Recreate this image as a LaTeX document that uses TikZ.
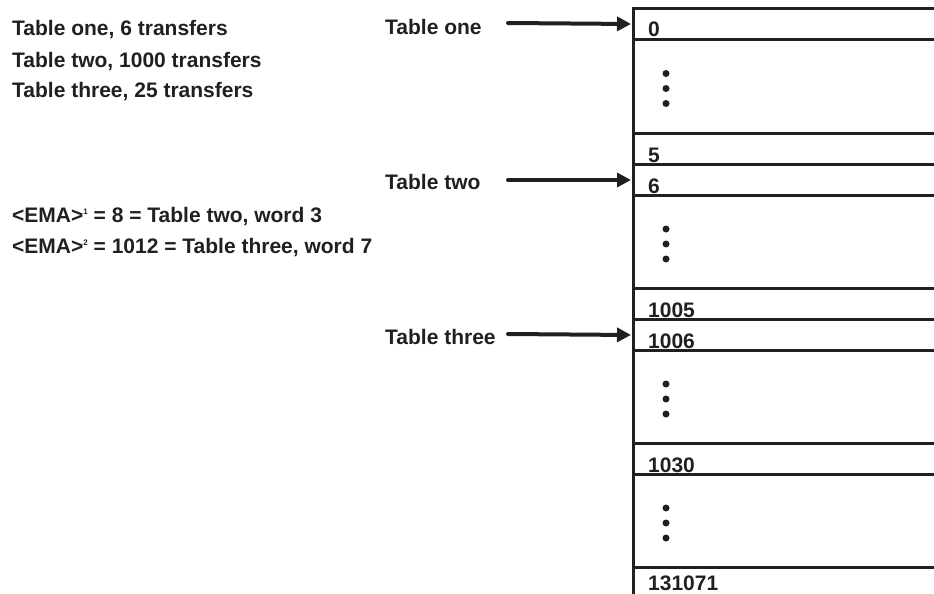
\documentclass[tikz,border=0pt]{standalone}
\usepackage{fontspec}
\setmainfont{Liberation Sans}
\usetikzlibrary{arrows.meta,calc}
\definecolor{ink}{RGB}{35,31,32}
\begin{document}
\begin{tikzpicture}[x=1pt,y=-1pt,
  txt/.style={anchor=base west,inner sep=0pt,text=ink,
    font=\fontsize{21}{25}\selectfont\bfseries},
  cell/.style={draw=ink,line width=3pt,rectangle,inner sep=0pt,
    anchor=north west,minimum width=320pt},
  pointer/.style={draw=ink,line width=4pt,line cap=round,
    -{Triangle[length=14pt,width=14pt]},shorten >=1pt},
  dot/.style={fill=ink,circle,inner sep=0pt,minimum size=7pt}]
\useasboundingbox (0,0) rectangle (934,594);
\begin{scope}
\clip (0,0) rectangle (934,594);
% memory column: single rows and elided blocks
\node[cell,minimum height=31pt] (c0)    at (632,7)   {};
\node[cell,minimum height=94pt] (d1)    at (632,38)  {};
\node[cell,minimum height=31pt] (c5)    at (632,132) {};
\node[cell,minimum height=31pt] (c6)    at (632,163) {};
\node[cell,minimum height=93pt] (d2)    at (632,194) {};
\node[cell,minimum height=31pt] (c1005) at (632,287) {};
\node[cell,minimum height=31pt] (c1006) at (632,318) {};
\node[cell,minimum height=93pt] (d3)    at (632,349) {};
\node[cell,minimum height=31pt] (c1030) at (632,442) {};
\node[cell,minimum height=93pt] (d4)    at (632,473) {};
\node[cell,minimum height=60pt] (cend)  at (632,566) {};
% vertical ellipses in the elided blocks
\foreach \d in {d1,d2,d3,d4}{
  \node[dot] (\d a) at ($(\d.west)+(34,-13)$) {};
  \node[dot] (\d b) at ($(\d.west)+(34,2)$) {};
  \node[dot] (\d c) at ($(\d.west)+(34,17)$) {};
}
\end{scope}
% row addresses
\foreach \c/\t in {c0/0,c5/5,c6/6,c1005/1005,c1006/1006,c1030/1030}
  \node[txt] at ($(\c.south west)+(16,-4)$) {\t};
\node[txt] (aend) at ($(cend.north west)+(16,24)$) {131071};
% table pointers
\node[txt] (lone)   at (385,35)  {Table one};
\node[txt] (ltwo)   at (385,189) {Table two};
\node[txt] (lthree) at (385,344) {Table three};
\coordinate (sone)   at (508,23);
\coordinate (stwo)   at (508,180);
\coordinate (sthree) at (508,334);
\draw[pointer] (sone) -- (c0.west);
\draw[pointer] (stwo) -- (c6.west);
\draw[pointer] (sthree) -- (c1006.west);
% notes
\newcommand{\supnum}[1]{\raisebox{8pt}{\fontsize{8}{8}\selectfont #1}}
\node[txt] (n1) at (12,36) {Table one, 6 transfers};
\node[txt] (n2) at (12,67) {Table two, 1000 transfers};
\node[txt] (n3) at (12,97) {Table three, 25 transfers};
\node[txt] (e1) at (12,222) {<EMA>\supnum{1} = 8 = Table two, word 3};
\node[txt] (e2) at (12,253) {<EMA>\supnum{2} = 1012 = Table three, word 7};
\end{tikzpicture}
\end{document}
